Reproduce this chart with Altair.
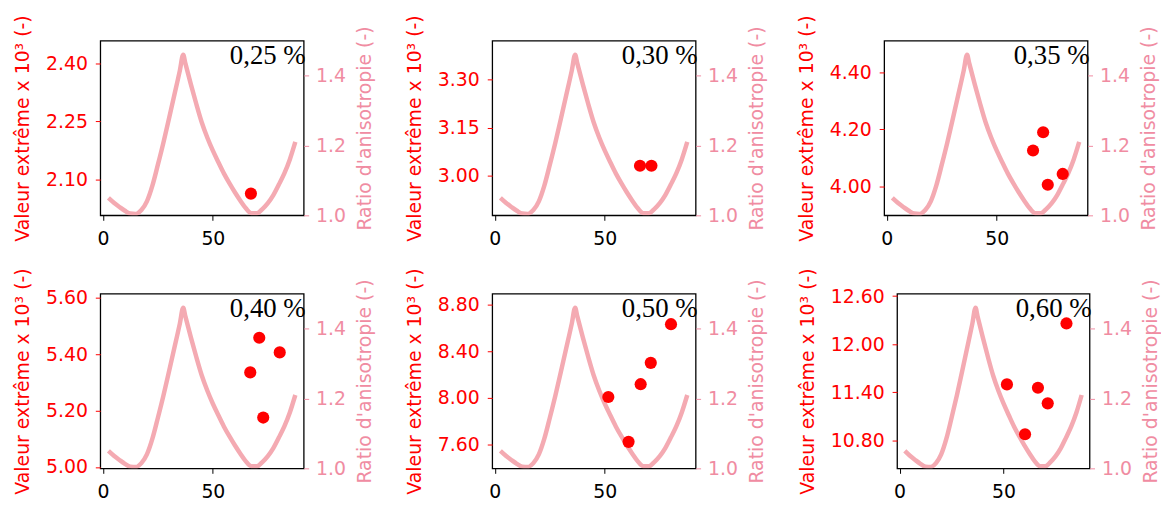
import altair as alt
import pandas as pd

# Anisotropy ratio curve (right axis)
ratio_x = [2.5, 5.0, 7.5, 10.0, 12.5, 15.0, 17.5, 20.0, 22.5, 25.0, 27.5, 30.0,
           32.5, 35.0, 36.5, 37.5, 40.0, 42.5, 45.0, 47.5, 50.0, 52.5, 55.0,
           57.5, 60.0, 62.5, 65.0, 67.5, 70.0, 72.5, 75.0, 77.5, 80.0, 82.5,
           85.0, 87.5]
ratio_y = [1.050, 1.036, 1.024, 1.013, 1.005, 1.004, 1.015, 1.040, 1.085, 1.145,
           1.208, 1.276, 1.345, 1.415, 1.460, 1.435, 1.375, 1.318, 1.265, 1.222,
           1.185, 1.152, 1.120, 1.092, 1.066, 1.042, 1.020, 1.006, 1.006, 1.018,
           1.035, 1.058, 1.088, 1.120, 1.160, 1.210]

# Panels
labels = ["0,25 %", "0,30 %", "0,35 %", "0,40 %", "0,50 %", "0,60 %"]
dots_x = [
    [67.3],
    [66.0, 71.2],
    [66.5, 71.1, 73.2, 80.0],
    [67.0, 71.1, 72.9, 80.4],
    [51.6, 60.8, 66.3, 70.9, 80.1],
    [51.6, 60.3, 66.5, 71.2, 80.2],
]
dots_y = [
    [2.064],
    [3.031, 3.031],
    [4.125, 4.189, 4.005, 4.043],
    [5.335, 5.458, 5.175, 5.406],
    [8.009, 7.626, 8.118, 8.300, 8.630],
    [11.498, 10.875, 11.456, 11.261, 12.259],
]
left_domains = [
    [2.008, 2.458],
    [2.876, 3.422],
    [3.898, 4.510],
    [4.995, 5.614],
    [7.400, 8.890],
    [10.45, 12.63],
]
left_ticks = [
    [2.10, 2.25, 2.40],
    [3.00, 3.15, 3.30],
    [4.00, 4.20, 4.40],
    [5.00, 5.20, 5.40, 5.60],
    [7.60, 8.00, 8.40, 8.80],
    [10.80, 11.40, 12.00, 12.60],
]
x_ticks = [0, 50]
ratio_ticks = [1.0, 1.2, 1.4]
panel_widths = [205, 205, 205, 205, 205, 194]

RED = "#ff0000"
PINK_LINE = "#f4aab2"
PINK_AXIS = "#f08ca2"
FONT = "DejaVu Sans"
FS = 19
H = 176

curve_df = pd.DataFrame({"x": ratio_x, "r": ratio_y})


def panel(i):
    w = panel_widths[i]
    xenc = alt.X(
        "x:Q",
        scale=alt.Scale(domain=[-1.2, 91.3], nice=False, zero=False),
        axis=alt.Axis(values=x_ticks, title=None, grid=False, domain=False,
                      tickColor="black", tickSize=5, labelColor="black",
                      labelFont=FONT, labelFontSize=FS, labelPadding=9,
                      format="d"),
    )
    line = alt.Chart(curve_df).mark_line(
        color=PINK_LINE, strokeWidth=4.5, clip=True, interpolate="monotone"
    ).encode(
        x=xenc,
        y=alt.Y(
            "r:Q",
            scale=alt.Scale(domain=[1.0, 1.5], nice=False, zero=False),
            axis=alt.Axis(orient="right", values=ratio_ticks, format=".1f",
                          title="Ratio d'anisotropie (-)", grid=False,
                          domain=False, tickColor=PINK_AXIS, tickSize=5,
                          labelColor=PINK_AXIS, labelFont=FONT,
                          labelFontSize=FS, labelPadding=7,
                          titleColor=PINK_AXIS, titleFont=FONT,
                          titleFontSize=FS, titleFontWeight="normal",
                          titleAngle=270, titleBaseline="top",
                          titlePadding=10),
        ),
    )
    ddf = pd.DataFrame({"x": dots_x[i], "v": dots_y[i]})
    pts = alt.Chart(ddf).mark_circle(color=RED, size=150, opacity=1).encode(
        x=xenc,
        y=alt.Y(
            "v:Q",
            scale=alt.Scale(domain=left_domains[i], nice=False, zero=False),
            axis=alt.Axis(orient="left", values=left_ticks[i], format=".2f",
                          title="Valeur extrême x 10³ (-)", grid=False,
                          domain=False, tickColor=RED, tickSize=5,
                          labelColor=RED, labelFont=FONT, labelFontSize=FS,
                          labelPadding=8, titleColor=RED, titleFont=FONT,
                          titleFontSize=FS, titleFontWeight="normal",
                          titlePadding=13),
        ),
    )
    txt = alt.Chart(pd.DataFrame({"t": [labels[i]]})).mark_text(
        font="Liberation Serif", fontSize=27, color="black", align="right",
        baseline="alphabetic"
    ).encode(text="t:N", x=alt.value(w + 2), y=alt.value(23))
    return alt.layer(line, pts, txt).resolve_scale(y="independent").properties(
        width=w, height=H
    )


row1 = alt.hconcat(panel(0), panel(1), panel(2), spacing=30)
row2 = alt.hconcat(panel(3), panel(4), panel(5), spacing=30)
chart = alt.vconcat(row1, row2, spacing=18).properties(
    padding={"left": 5, "top": 4, "right": 0, "bottom": 0}
).configure(background="white").configure_view(
    stroke="black", strokeWidth=1.3
)

chart.save("out.html", embed_options={"renderer": "svg", "actions": False})
